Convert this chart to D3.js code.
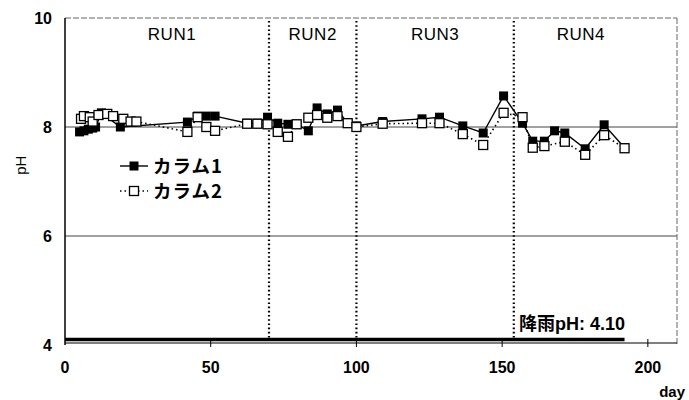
<!DOCTYPE html>
<html>
<head>
<meta charset="utf-8">
<script src="https://cdn.jsdelivr.net/npm/d3@7"></script>
<style>
  body { margin: 0; background: #fff; }
  svg { display: block; font-family: "Liberation Sans", Arial, sans-serif; }
  .jp { font-family: "Noto Sans CJK JP", sans-serif; }
</style>
</head>
<body>
<svg id="chart" width="689" height="400"></svg>
<script>
// ====== DADOS ======
const col1Days = [5, 6.5, 8, 9.5, 10.5, 12.5, 19, 42, 45.5, 48.5, 51.5, 62.5, 66, 69.5, 73, 76.5, 79.5, 83.5, 86.5, 90, 93.5, 97, 100, 109, 122.5, 128.5, 136.5, 143.5, 150.5, 157, 160.5, 164.5, 168, 171.5, 178.5, 185, 192];
const col1PH = [7.91, 7.93, 7.96, 7.98, 8.0, 8.26, 8.0, 8.09, 8.2, 8.2, 8.2, 8.07, 8.07, 8.18, 8.07, 8.05, 8.05, 7.93, 8.35, 8.24, 8.31, 8.07, 8.02, 8.1, 8.15, 8.18, 8.02, 7.89, 8.57, 8.07, 7.74, 7.74, 7.93, 7.89, 7.6, 8.04, 7.62];

const col2Days = [5.5, 6.5, 8.5, 9.5, 11.5, 14.5, 16.5, 20, 22.5, 24.5, 42, 45.5, 48.5, 51.5, 62.5, 66, 69.5, 73, 76.5, 79.5, 83.5, 86.5, 90, 93.5, 97, 100, 109, 122.5, 128.5, 136.5, 143.5, 150.5, 157, 160.5, 164.5, 171.5, 178.5, 185, 192];
const col2PH = [8.15, 8.2, 8.18, 8.1, 8.22, 8.24, 8.2, 8.15, 8.1, 8.1, 7.91, 8.18, 8.0, 7.93, 8.06, 8.06, 8.05, 7.91, 7.82, 8.05, 8.17, 8.22, 8.17, 8.2, 8.07, 8.0, 8.06, 8.07, 8.07, 7.87, 7.67, 8.26, 8.18, 7.62, 7.65, 7.73, 7.49, 7.85, 7.61];

const runNames = ['RUN1', 'RUN2', 'RUN3', 'RUN4'];
const runBounds = [0, 70, 100, 154, 210];
const xTicks = [0, 50, 100, 150, 200];
const yTicks = [4, 6, 8, 10];
const rainPH = 4.10;
const rainEnd = 192;

// ====== ESCALAS ======
const svg = d3.select('#chart');
const x = d3.scaleLinear().domain([0, 210]).range([65, 677]);
const y = d3.scaleLinear().domain([4, 10]).range([345, 18]);

// gridlines
svg.append('g').selectAll('line')
  .data([6, 8])
  .enter().append('line')
  .attr('x1', x(0)).attr('x2', x(210))
  .attr('y1', d => y(d)).attr('y2', d => y(d))
  .attr('stroke', '#444').attr('stroke-width', 1);

// frame: top and right dashed-ish
svg.append('line')
  .attr('x1', x(0)).attr('x2', x(210)).attr('y1', y(10)).attr('y2', y(10))
  .attr('stroke', '#666').attr('stroke-width', 1).attr('stroke-dasharray', '6,2');
svg.append('line')
  .attr('x1', x(210)).attr('x2', x(210)).attr('y1', y(10)).attr('y2', y(4))
  .attr('stroke', '#666').attr('stroke-width', 1).attr('stroke-dasharray', '6,2');

// axes
svg.append('line')
  .attr('x1', x(0)).attr('x2', x(0)).attr('y1', y(10)).attr('y2', y(4))
  .attr('stroke', '#000').attr('stroke-width', 1.5);
svg.append('line')
  .attr('x1', x(0)).attr('x2', x(210)).attr('y1', y(4) - 2).attr('y2', y(4) - 2)
  .attr('stroke', '#000').attr('stroke-width', 1.2);

svg.append('g').selectAll('line')
  .data(xTicks.slice(1))
  .enter().append('line')
  .attr('x1', d => x(d)).attr('x2', d => x(d))
  .attr('y1', y(4) - 6).attr('y2', y(4) + 2)
  .attr('stroke', '#000').attr('stroke-width', 1);

svg.append('g').selectAll('text')
  .data(xTicks)
  .enter().append('text')
  .attr('x', d => x(d)).attr('y', 373)
  .attr('text-anchor', 'middle')
  .attr('font-size', 16).attr('font-weight', 'bold')
  .text(d => d);

svg.append('g').selectAll('text')
  .data(yTicks)
  .enter().append('text')
  .attr('x', 52).attr('y', d => y(d) + 6)
  .attr('text-anchor', 'end')
  .attr('font-size', 16).attr('font-weight', 'bold')
  .text(d => d);

svg.append('text')
  .attr('transform', 'translate(26,' + y(7.3) + ') rotate(-90)')
  .attr('text-anchor', 'middle')
  .attr('font-size', 15)
  .text('pH');

svg.append('text')
  .attr('x', 685).attr('y', 397)
  .attr('text-anchor', 'end')
  .attr('font-size', 15).attr('font-weight', 'bold')
  .text('day');

// run separators
svg.append('g').selectAll('line')
  .data(runBounds.slice(1, 4))
  .enter().append('line')
  .attr('x1', d => x(d)).attr('x2', d => x(d))
  .attr('y1', y(10) + 3).attr('y2', y(4) - 4)
  .attr('stroke', '#000').attr('stroke-width', 2.2)
  .attr('stroke-dasharray', '1.6,2.6');

svg.append('g').selectAll('text')
  .data(runNames)
  .enter().append('text')
  .attr('x', (d, i) => (x(runBounds[i]) + x(Math.min(runBounds[i + 1], 200))) / 2 + (i === 0 ? 5 : 0))
  .attr('y', 40)
  .attr('text-anchor', 'middle')
  .attr('font-size', 17)
  .attr('letter-spacing', 0.5)
  .text(d => d);

// rain line
svg.append('line')
  .attr('x1', x(0)).attr('x2', x(rainEnd))
  .attr('y1', y(rainPH)).attr('y2', y(rainPH))
  .attr('stroke', '#000').attr('stroke-width', 3.5);

svg.append('text')
  .attr('x', 519).attr('y', 330)
  .attr('font-size', 18).attr('font-weight', 'bold')
  .html('<tspan class="jp">降雨</tspan>pH: 4.10');

// series
const col1 = col1Days.map((d, i) => ({ day: d, ph: col1PH[i] }));
const col2 = col2Days.map((d, i) => ({ day: d, ph: col2PH[i] }));
const line = d3.line().x(d => x(d.day)).y(d => y(d.ph));

svg.append('path').datum(col2)
  .attr('d', line).attr('fill', 'none')
  .attr('stroke', '#000').attr('stroke-width', 1.6)
  .attr('stroke-dasharray', '1.5,3');
svg.append('path').datum(col1)
  .attr('d', line).attr('fill', 'none')
  .attr('stroke', '#000').attr('stroke-width', 1.4);

const ms = 9;
svg.append('g').selectAll('rect')
  .data(col1).enter().append('rect')
  .attr('x', d => x(d.day) - ms / 2).attr('y', d => y(d.ph) - ms / 2)
  .attr('width', ms).attr('height', ms)
  .attr('fill', '#000');
svg.append('g').selectAll('rect')
  .data(col2).enter().append('rect')
  .attr('x', d => x(d.day) - ms / 2).attr('y', d => y(d.ph) - ms / 2)
  .attr('width', ms).attr('height', ms)
  .attr('fill', '#fff').attr('stroke', '#000').attr('stroke-width', 1.3);

// legend
const lg = svg.append('g').attr('transform', 'translate(120,0)');
lg.append('line').attr('x1', 0).attr('x2', 28).attr('y1', 166).attr('y2', 166)
  .attr('stroke', '#000').attr('stroke-width', 1.4);
lg.append('rect').attr('x', 9.5).attr('y', 161.5).attr('width', ms).attr('height', ms).attr('fill', '#000');
lg.append('line').attr('x1', 0).attr('x2', 28).attr('y1', 191).attr('y2', 191)
  .attr('stroke', '#000').attr('stroke-width', 1.6).attr('stroke-dasharray', '1.5,3');
lg.append('rect').attr('x', 9.5).attr('y', 186.5).attr('width', ms).attr('height', ms)
  .attr('fill', '#fff').attr('stroke', '#000').attr('stroke-width', 1.3);
lg.append('text').attr('class', 'jp').attr('x', 33).attr('y', 173)
  .attr('font-size', 18.5).attr('font-weight', 'bold').attr('letter-spacing', 1).text('カラム1');
lg.append('text').attr('class', 'jp').attr('x', 33).attr('y', 198)
  .attr('font-size', 18.5).attr('font-weight', 'bold').attr('letter-spacing', 1).text('カラム2');
</script>
</body>
</html>
